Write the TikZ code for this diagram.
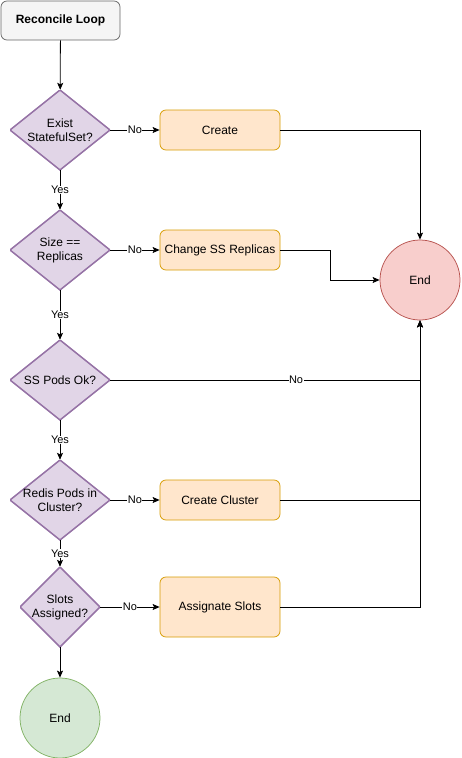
\documentclass[tikz,border=0pt]{standalone}
\usepackage{fontspec}
\setmainfont{Liberation Sans}
\usetikzlibrary{arrows.meta}

\definecolor{startfill}{HTML}{F5F5F5}
\definecolor{startline}{HTML}{666666}
\definecolor{decfill}{HTML}{E1D5E7}
\definecolor{decline}{HTML}{9673A6}
\definecolor{actfill}{HTML}{FFE6CC}
\definecolor{actline}{HTML}{D79B00}
\definecolor{stopfill}{HTML}{F8CECC}
\definecolor{stopline}{HTML}{B85450}
\definecolor{donefill}{HTML}{D5E8D4}
\definecolor{doneline}{HTML}{82B366}

\tikzset{
  flow/.style={-{Stealth[length=7pt,width=6pt,inset=1.5pt]}, line width=0.8pt},
  elabel/.style={fill=white, inner sep=0.5pt, font=\fontsize{11}{12}\selectfont},
  startbox/.style={rectangle, rounded corners=6pt, draw=startline, fill=startfill, line width=0.75pt, minimum width=119pt, minimum height=39pt, font=\fontsize{12}{14}\selectfont\bfseries},
  actbox/.style={rectangle, rounded corners=6pt, draw=actline, fill=actfill, line width=0.75pt, minimum width=120pt, minimum height=40pt, font=\fontsize{12}{14}\selectfont},
  decision/.style={rectangle, inner sep=0pt, minimum width=100pt, minimum height=80pt, align=center, font=\fontsize{12}{14}\selectfont,
    path picture={\draw[decline, fill=decfill, line width=1.5pt] (path picture bounding box.north) -- (path picture bounding box.east) -- (path picture bounding box.south) -- (path picture bounding box.west) -- cycle;}},
  stopnode/.style={circle, minimum size=80pt, inner sep=0pt, line width=0.75pt, font=\fontsize{12}{14}\selectfont}
}

\begin{document}
\begin{tikzpicture}[x=1pt, y=-1pt]

  \useasboundingbox (0,0) rectangle (461,758);

  % Start
  \node[startbox] (loop) at (60.5,20.5) {Reconcile Loop};

  % Checks
  \node[decision] (exist) at (60,130) {Exist\\StatefulSet?};
  \node[decision] (size) at (60,250) {Size ==\\Replicas};
  \node[decision] (pods) at (60,380) {SS Pods Ok?};
  \node[decision] (redis) at (60,500) {Redis Pods in\\Cluster?};
  \node[decision, minimum width=80pt] (slots) at (60,607) {Slots\\Assigned?};

  % Actions
  \node[actbox] (create) at (220,130) {Create};
  \node[actbox] (change) at (220,250) {Change SS Replicas};
  \node[actbox] (cluster) at (220,500) {Create Cluster};
  \node[actbox, minimum height=60pt] (assign) at (220,607) {Assignate Slots};

  % Ends
  \node[stopnode, draw=stopline, fill=stopfill] (endred) at (420,280) {End};
  \node[stopnode, draw=doneline, fill=donefill] (endgreen) at (60,718) {End};

  % Yes branch
  \draw[flow] (loop) -- (exist);
  \draw[flow] (exist) -- (size) node[midway, elabel] {Yes};
  \draw[flow] (size) -- (pods) node[midway, elabel] {Yes};
  \draw[flow] (pods) -- (redis) node[midway, elabel] {Yes};
  \draw[flow] (redis) -- (slots) node[midway, elabel] {Yes};
  \draw[flow] (slots) -- (endgreen);

  % No branch
  \draw[flow] (exist) -- (create) node[midway, elabel] {No};
  \draw[flow] (size) -- (change) node[midway, elabel] {No};
  \draw[flow] (redis) -- (cluster) node[midway, elabel] {No};
  \draw[flow] (slots) -- (assign) node[midway, elabel] {No};
  \draw[flow] (pods) -| (endred.south) node[pos=0.3, elabel] {No};

  % Back to end
  \draw[flow] (create) -| (endred.north);
  \draw[flow] (change.east) -- ++(50,0) |- (endred.west);
  \draw[flow] (cluster) -| (endred.south);
  \draw[flow] (assign) -| (endred.south);

\end{tikzpicture}
\end{document}
